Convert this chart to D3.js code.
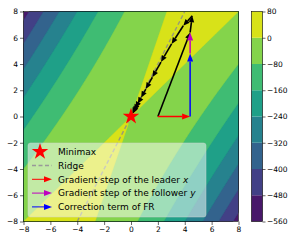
<!DOCTYPE html>
<html>
<head>
<meta charset="utf-8">
<script src="https://cdn.jsdelivr.net/npm/d3@7"></script>
<style>
  body { margin: 0; background: #fff; }
  text { font-family: "DejaVu Sans", sans-serif; fill: #000; }
</style>
</head>
<body>
<svg id="chart" width="301" height="241"></svg>
<script>
// Contour levels (colorbar ticks)
const levels = [-560, -480, -400, -320, -240, -160, -80, 0, 80];
const axisTicks = [-8, -6, -4, -2, 0, 2, 4, 6, 8];

// surface coefficients: f(x, y) = a*x^2 + b*x*y + c*y^2
const coefA = -3, coefB = 4, coefC = -1;

// ridge line end points
const ridgeX = [-4, 4];
const ridgeY = [-8, 8];

// first step decomposition
const stepArrows = [
    { from: [2, 0], to: [4.4, 0], color: "#ff0000" },
    { from: [4.4, 0], to: [4.4, 4.8], color: "#0000ff" },
    { from: [4.4, 4.8], to: [4.4, 6.4], color: "#bf00bf" }
];

// trajectory
const trajX = [2, 4.4, 4.56, 3.89, 3.02, 2.23, 1.59, 1.10, 0.75, 0.50, 0.33, 0.22, 0.14, 0.09];
const trajY = [0, 6.4, 7.68, 6.91, 5.53, 4.15, 2.99, 2.09, 1.43, 0.97, 0.64, 0.43, 0.28, 0.18];

const legendItems = [
    { label: "Minimax", kind: "star", color: "#ff0000" },
    { label: "Ridge", kind: "dash", color: "#999999" },
    { label: "Gradient step of the leader ", it: "x", kind: "arrow", color: "#ff0000" },
    { label: "Gradient step of the follower ", it: "y", kind: "arrow", color: "#bf00bf" },
    { label: "Correction term of FR", kind: "arrow", color: "#0000ff" }
];

const svg = d3.select("#chart");

// plot area
const pLeft = 23.5, pRight = 238.5, pTop = 11.5, pBottom = 221.5;
const x = d3.scaleLinear().domain([-8, 8]).range([pLeft, pRight]);
const y = d3.scaleLinear().domain([-8, 8]).range([pBottom, pTop]);

const bandColor = i => d3.interpolateViridis((i + 0.5) / (levels.length - 1));

svg.append("clipPath").attr("id", "clip")
    .append("rect")
    .attr("x", pLeft).attr("y", pTop)
    .attr("width", pRight - pLeft).attr("height", pBottom - pTop);

const plot = svg.append("g").attr("clip-path", "url(#clip)");

// grid of function values
const n = 241;
const values = new Array(n * n);
for (let j = 0; j < n; j++) {
    for (let i = 0; i < n; i++) {
        const gx = -8 + 16 * i / (n - 1);
        const gy = -8 + 16 * j / (n - 1);
        values[j * n + i] = coefA * gx * gx + coefB * gx * gy + coefC * gy * gy;
    }
}

const toData = c => -8 + 16 * (c - 0.5) / (n - 1);
const proj = d3.geoTransform({
    point: function (px, py) {
        this.stream.point(x(toData(px)), y(toData(py)));
    }
});
const path = d3.geoPath(proj);

// lowest band fills everything
plot.append("rect")
    .attr("x", pLeft).attr("y", pTop)
    .attr("width", pRight - pLeft).attr("height", pBottom - pTop)
    .attr("fill", bandColor(0));

const contours = d3.contours().size([n, n]).thresholds(levels.slice(1, -1))(values);
plot.selectAll("path.band")
    .data(contours)
    .join("path")
    .attr("class", "band")
    .attr("d", path)
    .attr("fill", (d, i) => bandColor(i + 1))
    .attr("stroke", (d, i) => bandColor(i + 1))
    .attr("stroke-width", 0.3);

// ridge
plot.append("line")
    .attr("x1", x(ridgeX[0])).attr("y1", y(ridgeY[0]))
    .attr("x2", x(ridgeX[1])).attr("y2", y(ridgeY[1]))
    .attr("stroke", "#8c8c8c")
    .attr("stroke-opacity", 0.85)
    .attr("stroke-width", 1.4)
    .attr("stroke-dasharray", "4,2.5");

// arrow helper: line plus a filled head at the end
function arrow(g, x1, y1, x2, y2, color, lw, hl, hw) {
    const dx = x2 - x1, dy = y2 - y1;
    const len = Math.hypot(dx, dy);
    if (len < 0.01) return;
    const ux = dx / len, uy = dy / len;
    const bx = x2 - ux * hl, by = y2 - uy * hl;
    g.append("line")
        .attr("x1", x1).attr("y1", y1)
        .attr("x2", len > hl ? bx : x1).attr("y2", len > hl ? by : y1)
        .attr("stroke", color).attr("stroke-width", lw);
    g.append("path")
        .attr("d", `M${x2},${y2}L${bx - uy * hw / 2},${by + ux * hw / 2}L${bx + uy * hw / 2},${by - ux * hw / 2}Z`)
        .attr("fill", color);
}

// trajectory
const traj = plot.append("g");
for (let k = 1; k < trajX.length; k++) {
    arrow(traj, x(trajX[k - 1]), y(trajY[k - 1]), x(trajX[k]), y(trajY[k]), "#000", 1.6, 6.5, 5.5);
}

// step arrows
stepArrows.forEach(a => {
    arrow(plot, x(a.from[0]), y(a.from[1]), x(a.to[0]), y(a.to[1]), a.color, 1.5, 8, 6);
});

// minimax star
const star = d3.symbol().type(d3.symbolStar).size(85);
plot.append("path")
    .attr("d", star())
    .attr("transform", `translate(${x(0)},${y(0)})`)
    .attr("fill", "#ff0000");

// spines
svg.append("rect")
    .attr("x", pLeft).attr("y", pTop)
    .attr("width", pRight - pLeft).attr("height", pBottom - pTop)
    .attr("fill", "none").attr("stroke", "#000").attr("stroke-width", 0.6);

// axes
const fmt = d => d < 0 ? "\u2212" + Math.abs(d) : String(d);
const xAxis = svg.append("g")
    .attr("transform", `translate(0,${pBottom})`)
    .call(d3.axisBottom(x).tickValues(axisTicks).tickSize(3.5).tickPadding(2).tickFormat(fmt));
const yAxis = svg.append("g")
    .attr("transform", `translate(${pLeft},0)`)
    .call(d3.axisLeft(y).tickValues(axisTicks).tickSize(3.5).tickPadding(2).tickFormat(fmt));
[xAxis, yAxis].forEach(a => {
    a.select(".domain").remove();
    a.selectAll("line").attr("stroke", "#000").attr("stroke-width", 0.6);
    a.selectAll("text").style("font-family", "DejaVu Sans").style("font-size", "7.5px").attr("fill", "#000");
});

// legend
const lg = svg.append("g").attr("transform", "translate(28,143)");
lg.append("rect")
    .attr("width", 178).attr("height", 74)
    .attr("rx", 2.5)
    .attr("fill", "#fff").attr("fill-opacity", 0.5)
    .attr("stroke", "#d0d0d0").attr("stroke-opacity", 0.6).attr("stroke-width", 0.8);
legendItems.forEach((d, i) => {
    const rowY = 8.7 + i * 13.8;
    const row = lg.append("g");
    if (d.kind === "star") {
        row.append("path").attr("d", d3.symbol().type(d3.symbolStar).size(85)())
            .attr("transform", `translate(12,${rowY})`).attr("fill", d.color);
    } else if (d.kind === "dash") {
        row.append("line").attr("x1", 4).attr("x2", 24).attr("y1", rowY).attr("y2", rowY)
            .attr("stroke", d.color).attr("stroke-width", 1.3).attr("stroke-dasharray", "4,2.5");
    } else {
        arrow(row, 4, rowY, 24, rowY, d.color, 1, 8, 6);
    }
    const t = row.append("text").attr("x", 30).attr("y", rowY + 3.2).style("font-size", "9px");
    t.append("tspan").text(d.label);
    if (d.it) t.append("tspan").style("font-style", "italic").text(d.it);
});

// colorbar
const cbLeft = 251.5, cbWidth = 11;
const cScale = d3.scaleLinear().domain([levels[0], levels[levels.length - 1]]).range([pBottom, pTop]);
svg.append("g").selectAll("rect")
    .data(d3.range(levels.length - 1))
    .join("rect")
    .attr("x", cbLeft)
    .attr("y", i => cScale(levels[i + 1]))
    .attr("width", cbWidth)
    .attr("height", i => cScale(levels[i]) - cScale(levels[i + 1]))
    .attr("fill", i => bandColor(i));
svg.append("rect")
    .attr("x", cbLeft).attr("y", pTop)
    .attr("width", cbWidth).attr("height", pBottom - pTop)
    .attr("fill", "none").attr("stroke", "#000").attr("stroke-width", 0.6);
const cAxis = svg.append("g")
    .attr("transform", `translate(${cbLeft + cbWidth},0)`)
    .call(d3.axisRight(cScale).tickValues(levels).tickSize(3).tickPadding(1.5).tickFormat(fmt));
cAxis.select(".domain").remove();
cAxis.selectAll("line").attr("stroke", "#000").attr("stroke-width", 0.6);
cAxis.selectAll("text").style("font-family", "DejaVu Sans").style("font-size", "7.5px").attr("fill", "#000");
</script>
</body>
</html>
